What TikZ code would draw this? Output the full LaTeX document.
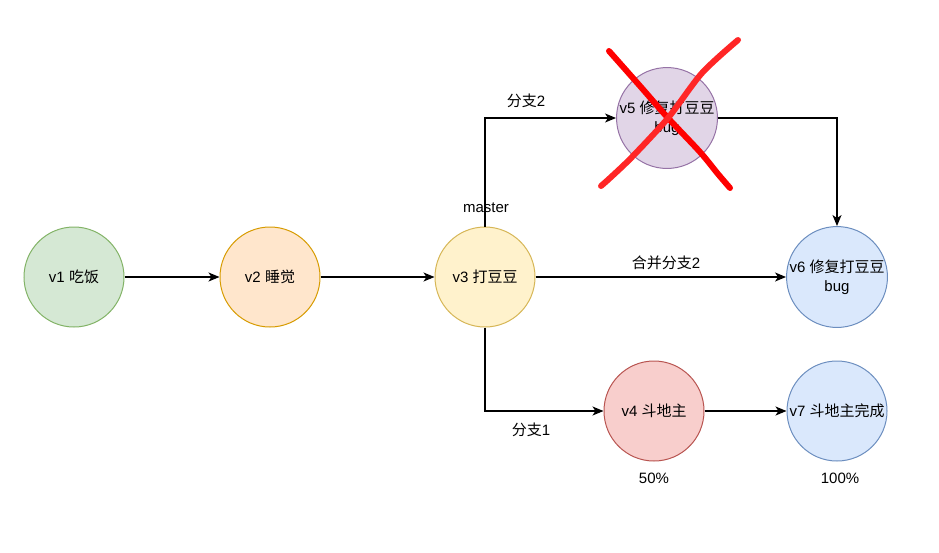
\documentclass[tikz,border=0pt]{standalone}
\usepackage{fontspec}
\usepackage{xcolor}
\setmainfont{Liberation Sans}
\newfontfamily\cjk{Noto Sans CJK SC}
\usetikzlibrary{arrows.meta}
\definecolor{greenfill}{HTML}{D5E8D4}\definecolor{greenline}{HTML}{82B366}
\definecolor{orangefill}{HTML}{FFE6CC}\definecolor{orangeline}{HTML}{D79B00}
\definecolor{yellowfill}{HTML}{FFF2CC}\definecolor{yellowline}{HTML}{D6B656}
\definecolor{purplefill}{HTML}{E1D5E7}\definecolor{purpleline}{HTML}{9673A6}
\definecolor{bluefill}{HTML}{DAE8FC}\definecolor{blueline}{HTML}{6C8EBF}
\definecolor{redfill}{HTML}{F8CECC}\definecolor{redline}{HTML}{B85450}
\tikzstyle{vertex}=[shape=circle, line width=1pt, minimum size=100pt, inner sep=0pt, align=center, font=\fontsize{15}{19}\selectfont]
\tikzstyle{edge}=[line width=1.2pt, -{Stealth[length=11pt, width=9pt, inset=3pt]}]
\tikzstyle{lbl}=[font=\fontsize{15}{18}\selectfont, inner sep=0pt]
\tikzstyle{cross}=[line width=6pt, line cap=round, line join=round]

\begin{document}
\begin{tikzpicture}[x=1pt, y=-1pt]
            \useasboundingbox (0,0) rectangle (939,552);
            \node[vertex, fill=greenfill, draw=greenline] (v1) at (74,277) {v1 {\cjk 吃饭}};
            \node[vertex, fill=orangefill, draw=orangeline] (v2) at (270,277) {v2 {\cjk 睡觉}};
            \node[vertex, fill=yellowfill, draw=yellowline] (v3) at (485,277) {v3 {\cjk 打豆豆}};
            \node[vertex, fill=purplefill, draw=purpleline] (v5) at (667,118) {v5 {\cjk 修复打豆豆}\\bug};
            \node[vertex, fill=bluefill, draw=blueline] (v6) at (837,277) {v6 {\cjk 修复打豆豆}\\bug};
            \node[vertex, fill=redfill, draw=redline] (v4) at (654,411) {v4 {\cjk 斗地主}};
            \node[vertex, fill=bluefill, draw=blueline] (v7) at (837,411) {v7 {\cjk 斗地主完成}};
            \draw[edge] (v1) -- (v2);
            \draw[edge] (v2) -- (v3);
            \draw[edge] (v3) -- (v6);
            \draw[edge] (v3.north) |- (v5.west);
            \draw[edge] (v5.east) -| (v6.north);
            \draw[edge] (v3.south) |- (v4.west);
            \draw[edge] (v4) -- (v7);
            \node[lbl] (master) at (486,208) {master};
            \node[lbl] (b2) at (526,101) {{\cjk 分支}2};
            \node[lbl] (merge) at (666,263) {{\cjk 合并分支}2};
            \node[lbl] (b1) at (531,430) {{\cjk 分支}1};
            \node[lbl] (p4) at (654,478) {50\%};
            \node[lbl] (p7) at (840,478) {100\%};
            % crossed out
            \draw[cross, red] plot[smooth] coordinates {(609,51) (640,86) (668,118) (700,152) (718,174) (730,188)};
            \draw[cross, red!85!white] plot[smooth] coordinates {(738,40) (702,73) (668,118) (632,157) (610,178) (601,186)};
        \end{tikzpicture}
\end{document}
